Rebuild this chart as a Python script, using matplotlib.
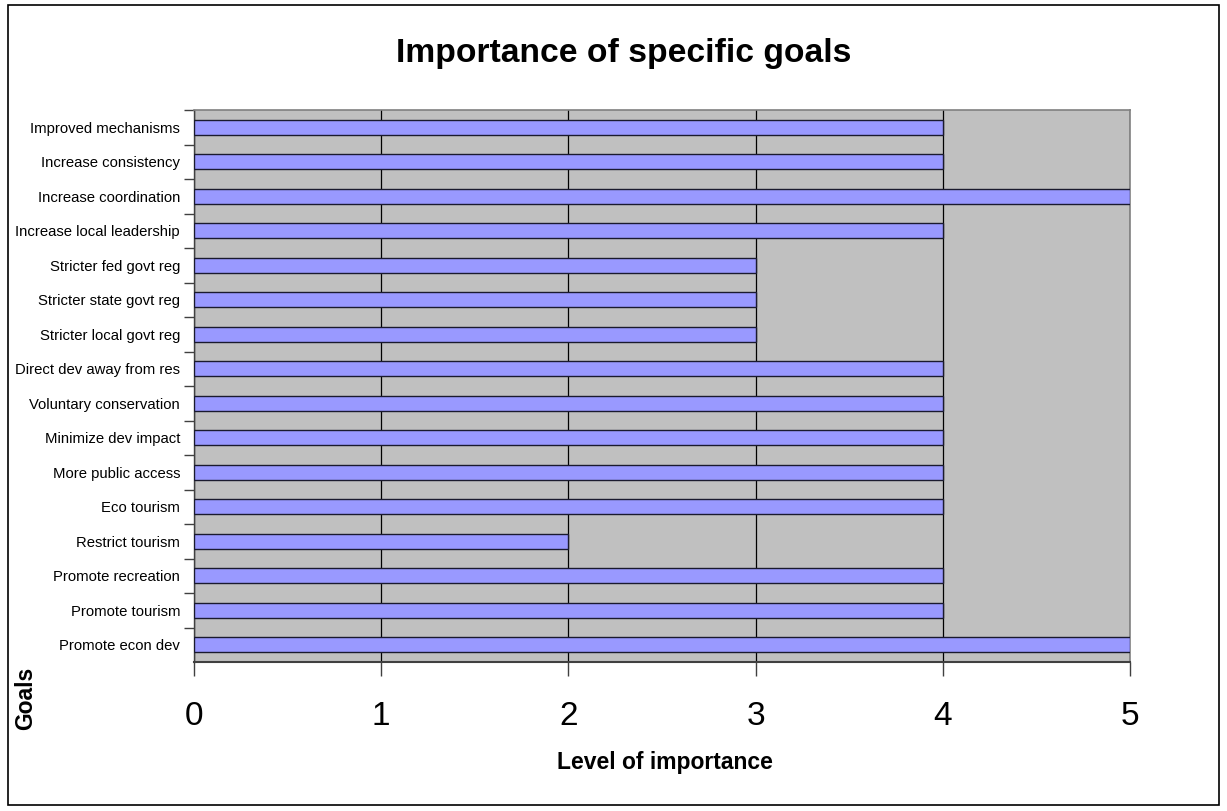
import matplotlib
matplotlib.use("Agg")
import matplotlib.pyplot as plt
from matplotlib.patches import Rectangle

plt.rcParams['font.family'] = ['Liberation Sans', 'DejaVu Sans']

goals = [
    "Promote econ dev", "Promote tourism", "Promote recreation", "Restrict tourism",
    "Eco tourism", "More public access", "Minimize dev impact", "Voluntary conservation",
    "Direct dev away from res", "Stricter local govt reg", "Stricter state govt reg",
    "Stricter fed govt reg", "Increase local leadership", "Increase coordination",
    "Increase consistency", "Improved mechanisms",
]
importance = [5, 4, 4, 2, 4, 4, 4, 4, 4, 3, 3, 3, 4, 5, 4, 4]
x_ticks = [0, 1, 2, 3, 4, 5]

W, H = 1227, 811
fig = plt.figure(figsize=(W / 100, H / 100), dpi=100)

# outer chart frame
fig.patches.append(Rectangle((8 / W, 1 - 805 / H), (1219 - 8) / W, (805 - 5) / H,
                             transform=fig.transFigure, fill=False,
                             edgecolor='black', linewidth=1.2))

ax = fig.add_axes([194 / W, 1 - 662 / H, (1130 - 194) / W, (662 - 110) / H])
ax.set_facecolor('#C0C0C0')

n = len(goals)
pos = list(range(n))
ax.barh(pos, importance, height=0.44, color='#9999FF', edgecolor='#1a1a2e',
        linewidth=1.0, zorder=3)

ax.set_xlim(0, 5)
ax.set_ylim(-0.5, n - 0.5)
ax.set_xticks(x_ticks)
ax.set_xticklabels([str(t) for t in x_ticks], fontsize=24)
ax.xaxis.grid(True, color='black', linewidth=0.9, zorder=1)
ax.tick_params(axis='x', length=10, width=1.0, color='#404040', pad=18)

ax.set_yticks(pos)
ax.set_yticklabels(goals, fontsize=10.7)
ax.tick_params(axis='y', which='major', length=0, pad=10)
ax.set_yticks([p + 0.5 for p in pos], minor=True)
ax.tick_params(axis='y', which='minor', length=7, width=1.0, color='#404040')

for side in ['top', 'right']:
    ax.spines[side].set_color('#808080')
    ax.spines[side].set_linewidth(1.2)
ax.spines['bottom'].set_color('#404040')
ax.spines['bottom'].set_linewidth(1.5)
ax.spines['left'].set_color('#404040')
ax.spines['left'].set_linewidth(1.0)

fig.text(624 / W, 1 - 62 / H, "Importance of specific goals", fontsize=24.2,
         fontweight='bold', ha='center', va='baseline')
fig.text(665 / W, 1 - 762 / H, "Level of importance", fontsize=16.5,
         fontweight='bold', ha='center', va='center')
fig.text(26 / W, 1 - 698 / H, "Goals", fontsize=16.5, fontweight='bold',
         rotation=90, ha='center', va='center')

fig.savefig("out.png", dpi=100)
